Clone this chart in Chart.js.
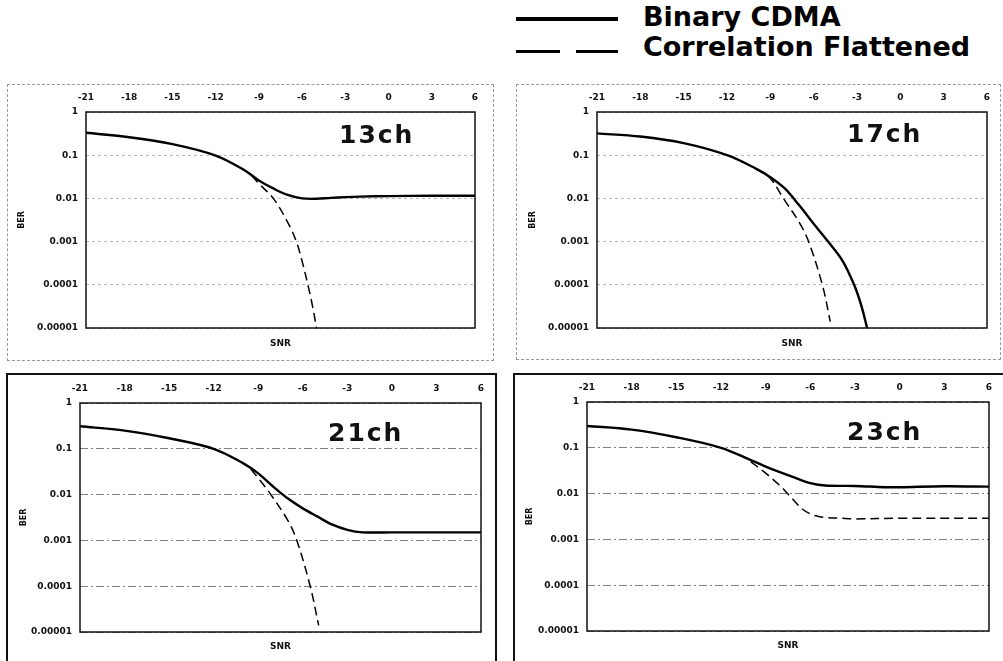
<!DOCTYPE html>
<html><head><meta charset="utf-8">
<script src="https://cdn.jsdelivr.net/npm/chart.js@4.4.0/dist/chart.umd.min.js"></script>
<style>
html,body{margin:0;padding:0;background:#fff;}
body{width:1003px;height:661px;overflow:hidden;position:relative;font-family:'DejaVu Sans',sans-serif;}
.abs{position:absolute;}
.box-top{border:1px dashed #999;box-sizing:border-box;}
.box-bot{border:2px solid #111;box-sizing:border-box;}
.lbl{position:absolute;font-family:'DejaVu Sans',sans-serif;font-weight:bold;font-size:25px;line-height:30px;letter-spacing:2px;color:#111;white-space:nowrap;}
.leg{position:absolute;font-family:'DejaVu Sans',sans-serif;font-weight:bold;font-size:27px;line-height:32px;color:#000;white-space:nowrap;left:643px;}
.ln{position:absolute;background:#000;}
canvas{position:absolute;}
</style></head><body>
<div class="ln" style="left:516px;top:17px;width:102px;height:4px;"></div>
<div class="ln" style="left:516px;top:49.5px;width:44px;height:3px;"></div>
<div class="ln" style="left:576px;top:49.5px;width:42px;height:3px;"></div>
<div class="leg" id="leg0" style="top:1px;"></div>
<div class="leg" id="leg1" style="top:31px;"></div>
<script>
// ---- data ----
const xTickValues = [-21, -18, -15, -12, -9, -6, -3, 0, 3, 6];
const xTickLabels = ['-21', '-18', '-15', '-12', '-9', '-6', '-3', '0', '3', '6'];
const yTickValues = [1, 0.1, 0.01, 0.001, 0.0001, 0.00001];
const yTickLabels = ['1', '0.1', '0.01', '0.001', '0.0001', '0.00001'];
const seriesNames = ['Binary CDMA', 'Correlation Flattened'];
const panelNames = ['13ch', '17ch', '21ch', '23ch'];
const xTitle = 'SNR';
const yTitle = 'BER';

const snr13Binary = [-21, -18, -15, -12, -10, -9, -8, -7, -6, -5, -4, -3, -2, 0, 3, 6];
const ber13Binary = [0.33, 0.26, 0.18, 0.098, 0.045, 0.026, 0.017, 0.012, 0.0100, 0.0098, 0.0103, 0.0107, 0.011, 0.0113, 0.0115, 0.0115];
const snr13Corr = [-9.5, -9, -8, -7, -6.4, -6, -5.6, -5.3, -5];
const ber13Corr = [0.034, 0.022, 0.01, 0.0028, 0.001, 0.00035, 0.0001, 0.000035, 0.00001];

const snr17Binary = [-21, -18, -15, -12, -10, -9, -8, -7, -6, -5, -4, -3.2, -2.7, -2.3];
const ber17Binary = [0.32, 0.27, 0.19, 0.1, 0.049, 0.031, 0.017, 0.0069, 0.0026, 0.001, 0.00036, 0.0001, 0.000033, 0.00001];
const snr17Corr = [-10, -9, -8.1, -7, -6.35, -5.4, -4.85];
const ber17Corr = [0.049, 0.029, 0.01, 0.0028, 0.001, 0.0001, 0.000014];

const snr21Binary = [-21, -18, -15, -12, -10, -9, -8, -7, -6, -5, -4, -3, -2, 0, 3, 6];
const ber21Binary = [0.31, 0.25, 0.17, 0.1, 0.048, 0.029, 0.015, 0.0082, 0.005, 0.0033, 0.0022, 0.0017, 0.0015, 0.0015, 0.0015, 0.0015];
const snr21Corr = [-9.5, -9, -8.15, -7, -6.4, -5.5, -4.93];
const ber21Corr = [0.036, 0.023, 0.01, 0.0027, 0.001, 0.0001, 0.000014];

const snr23Binary = [-21, -18, -15, -12, -10, -9, -8, -7, -6, -5, -3, -1, 0, 3, 6];
const ber23Binary = [0.3, 0.25, 0.17, 0.1, 0.054, 0.039, 0.029, 0.022, 0.017, 0.015, 0.0147, 0.0138, 0.0138, 0.0145, 0.0142];
const snr23Corr = [-10, -9, -8, -7.5, -7, -6.5, -6, -5.5, -5, -4, -3, 0, 6];
const ber23Corr = [0.05, 0.028, 0.0145, 0.0098, 0.0065, 0.0045, 0.0036, 0.0032, 0.003, 0.0029, 0.0028, 0.0029, 0.0029];

// ---- layout ----
const W = 1003, H = 661;
const panels = [
  {name: panelNames[0], box: {x: 7, y: 84, r: 494, b: 361}, plot: {l: 86, t: 112, r: 475, b: 328}, style: 'top', berPad: 10, snrPad: 11.5, lbl: {x: 339, cy: 134},
   s1: [snr13Binary, ber13Binary], s2: [snr13Corr, ber13Corr]},
  {name: panelNames[1], box: {x: 516, y: 84, r: 1001, b: 360}, plot: {l: 597, t: 112, r: 987, b: 328}, style: 'top', berPad: 12.5, snrPad: 10.5, lbl: {x: 847, cy: 133},
   s1: [snr17Binary, ber17Binary], s2: [snr17Corr, ber17Corr]},
  {name: panelNames[2], box: {x: 6, y: 373, r: 497, b: 668}, plot: {l: 80, t: 403, r: 481, b: 632}, style: 'bot', berPad: 13, snrPad: 8.5, lbl: {x: 328, cy: 432.5},
   s1: [snr21Binary, ber21Binary], s2: [snr21Corr, ber21Corr]},
  {name: panelNames[3], box: {x: 513, y: 373, r: 1010, b: 668}, plot: {l: 587, t: 402, r: 989, b: 631}, style: 'bot', berPad: 12, snrPad: 10, lbl: {x: 847, cy: 431.7},
   s1: [snr23Binary, ber23Binary], s2: [snr23Corr, ber23Corr]}
];

document.getElementById('leg0').textContent = seriesNames[0];
document.getElementById('leg1').textContent = seriesNames[1];

const zip = (xs, ys) => xs.map((x, i) => ({x: x, y: ys[i]}));
const tickFont = {family: 'DejaVu Sans', size: 9, weight: 'bold'};

const framePlugin = {
  id: 'frame',
  afterDraw(chart) {
    const {ctx, chartArea: a} = chart;
    ctx.save();
    ctx.strokeStyle = '#111';
    ctx.lineWidth = 1.5;
    ctx.strokeRect(a.left, a.top, a.right - a.left, a.bottom - a.top);
    ctx.restore();
  }
};

function yLabel(v) {
  for (let i = 0; i < yTickValues.length; i++) {
    if (Math.abs(Math.log10(v) - Math.log10(yTickValues[i])) < 1e-6) return yTickLabels[i];
  }
  return '';
}
function xLabel(v) {
  const i = xTickValues.indexOf(v);
  return i >= 0 ? xTickLabels[i] : '';
}

panels.forEach((p, idx) => {
  const bx = p.box;
  const border = document.createElement('div');
  border.className = 'abs ' + (p.style === 'top' ? 'box-top' : 'box-bot');
  border.style.left = bx.x + 'px'; border.style.top = bx.y + 'px';
  border.style.width = (bx.r - bx.x) + 'px'; border.style.height = (bx.b - bx.y) + 'px';
  document.body.appendChild(border);

  const cw = Math.min(bx.r, W) - bx.x;
  const chh = Math.min(bx.b, H) - bx.y;
  const cv = document.createElement('canvas');
  cv.width = cw; cv.height = chh;
  cv.style.left = bx.x + 'px'; cv.style.top = bx.y + 'px';
  cv.style.width = cw + 'px'; cv.style.height = chh + 'px';
  document.body.appendChild(cv);

  const lbl = document.createElement('div');
  lbl.className = 'lbl';
  lbl.textContent = p.name;
  lbl.style.left = p.lbl.x + 'px';
  lbl.style.top = (p.lbl.cy - 14.5) + 'px';
  document.body.appendChild(lbl);

  const pl = p.plot;
  const topH = pl.t - bx.y;
  const botH = chh - (pl.b - bx.y);
  const leftW = pl.l - bx.x;
  const rightPad = cw - (pl.r - bx.x);
  const gridColor = p.style === 'top' ? '#b8b8b8' : '#808080';
  const gridDash = p.style === 'top' ? [3, 3] : [8, 3, 2, 3];

  new Chart(cv, {
    type: 'line',
    data: {
      datasets: [
        {label: seriesNames[0], data: zip(p.s1[0], p.s1[1]), borderColor: '#000', borderWidth: 2.4,
         pointRadius: 0, tension: 0.35, fill: false, xAxisID: 'x', yAxisID: 'y'},
        {label: seriesNames[1], data: zip(p.s2[0], p.s2[1]), borderColor: '#000', borderWidth: 1.5,
         borderDash: [9, 5], pointRadius: 0, tension: 0.35, fill: false, xAxisID: 'x', yAxisID: 'y'}
      ]
    },
    options: {
      responsive: false, animation: false, devicePixelRatio: 1,
      layout: {padding: {left: 0, top: 0, bottom: 0, right: rightPad}},
      plugins: {legend: {display: false}, tooltip: {enabled: false}},
      scales: {
        x: {
          type: 'linear', position: 'top', min: -21, max: 6,
          afterFit: s => { s.height = topH; },
          afterBuildTicks: s => { s.ticks = xTickValues.map(v => ({value: v})); },
          ticks: {callback: v => xLabel(v), font: tickFont, color: '#111', padding: 9, maxRotation: 0, autoSkip: false},
          grid: {display: false, drawTicks: false},
          border: {display: false}
        },
        x2: {
          type: 'linear', position: 'bottom', min: -21, max: 6,
          afterFit: s => { s.height = botH; },
          ticks: {display: false},
          grid: {display: false, drawTicks: false},
          border: {display: false},
          title: {display: true, text: xTitle, font: tickFont, color: '#111', padding: {top: 0, bottom: p.snrPad}}
        },
        y: {
          type: 'logarithmic', position: 'left', min: 0.00001, max: 1,
          afterFit: s => { s.width = leftW; },
          afterBuildTicks: s => { s.ticks = yTickValues.map(v => ({value: v})); },
          ticks: {callback: v => yLabel(v), font: tickFont, color: '#111', padding: 8, autoSkip: false},
          grid: {color: gridColor, lineWidth: 1, drawTicks: false},
          border: {display: false, dash: gridDash},
          title: {display: true, text: yTitle, font: {family: 'DejaVu Sans', size: 8, weight: 'bold'}, color: '#111', padding: {top: p.berPad, bottom: 0}}
        }
      }
    },
    plugins: [framePlugin]
  });
});
</script>
</body></html>
